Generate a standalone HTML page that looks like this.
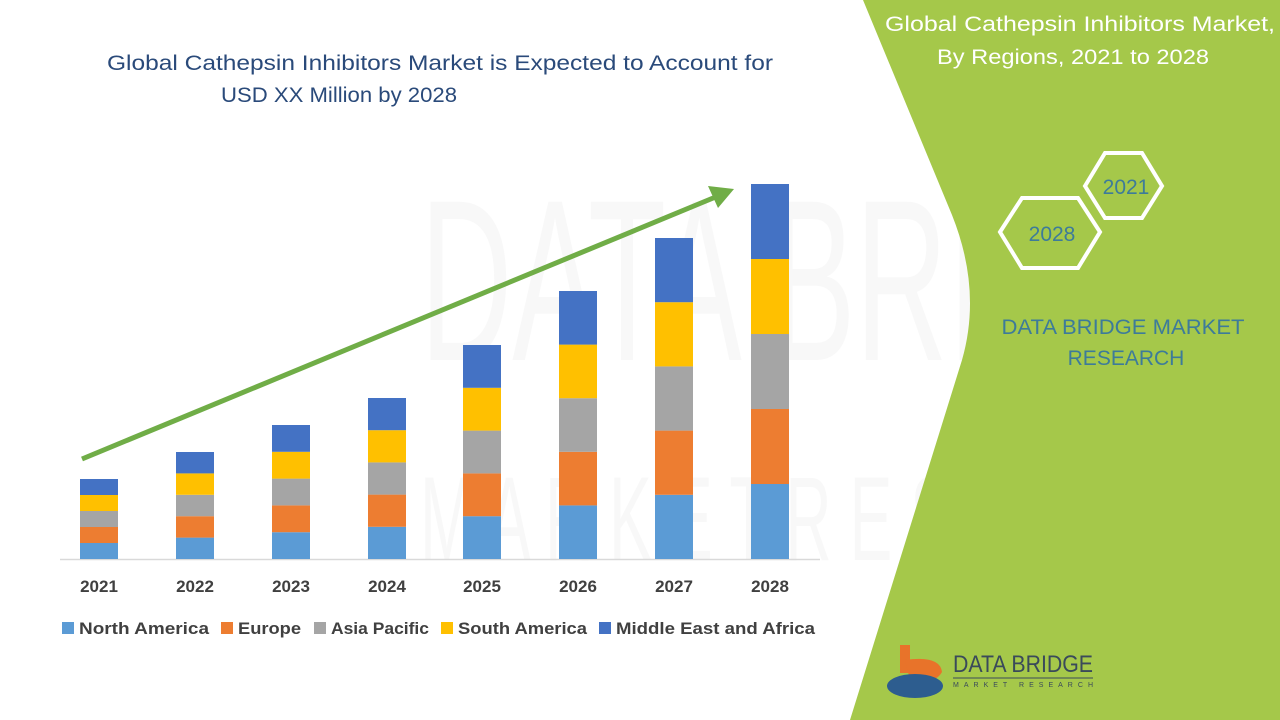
<!DOCTYPE html>
<html><head><meta charset="utf-8"><style>
html,body{margin:0;padding:0;width:1280px;height:720px;overflow:hidden;background:#fff}
svg{display:block}
</style></head><body>
<svg width="1280" height="720" viewBox="0 0 1280 720" xmlns="http://www.w3.org/2000/svg" font-family="Liberation Sans, sans-serif">
<rect width="1280" height="720" fill="#fff"/>
<g opacity="0.035" fill="#555">
<text x="420" y="360" font-size="230" textLength="840" lengthAdjust="spacingAndGlyphs">DATA BRIDGE</text>
<text x="420" y="560" font-size="120" textLength="840" lengthAdjust="spacingAndGlyphs">M A R K E T  R E S E A R C H</text>
</g>
<path d="M863,0 L952,215 Q982,290 962,360 L850,720 L1280,720 L1280,0 Z" fill="#a5c84a"/>
<text x="1080" y="31" font-size="21" fill="#fff" text-anchor="middle" textLength="390" lengthAdjust="spacingAndGlyphs">Global Cathepsin Inhibitors Market,</text>
<text x="1073" y="64" font-size="21" fill="#fff" text-anchor="middle" textLength="272" lengthAdjust="spacingAndGlyphs">By Regions, 2021 to 2028</text>
<polygon points="1000,232 1022,198 1078,198 1100,232 1078,268 1022,268" fill="none" stroke="#fff" stroke-width="4"/>
<polygon points="1085,186 1105,153 1142,153 1162,186 1142,218 1105,218" fill="none" stroke="#fff" stroke-width="4"/>
<text x="1052" y="241" font-size="21" fill="#3d7b9a" text-anchor="middle">2028</text>
<text x="1126" y="194" font-size="21" fill="#3d7b9a" text-anchor="middle">2021</text>
<text x="1123" y="334" font-size="21" fill="#3d7b9a" text-anchor="middle" textLength="243" lengthAdjust="spacingAndGlyphs">DATA BRIDGE MARKET</text>
<text x="1126" y="365" font-size="21" fill="#3d7b9a" text-anchor="middle">RESEARCH</text>
<rect x="900" y="645" width="10" height="28" fill="#e8732a"/>
<path d="M905,660 Q940,655 942,672 Q935,685 910,680 Z" fill="#e8732a"/>
<ellipse cx="915" cy="686" rx="28" ry="12" fill="#2d5d8f"/>
<text x="953" y="672" font-size="24" fill="#3a4a5a" textLength="140" lengthAdjust="spacingAndGlyphs">DATA BRIDGE</text>
<line x1="953" y1="678" x2="1093" y2="678" stroke="#3a4a5a" stroke-width="1"/>
<text x="953" y="687" font-size="7" fill="#3a4a5a" textLength="140" lengthAdjust="spacing">MARKET RESEARCH</text>
<text x="440" y="70" font-size="21" fill="#2a4a7a" text-anchor="middle" textLength="666" lengthAdjust="spacingAndGlyphs">Global Cathepsin Inhibitors Market is Expected to Account for</text>
<text x="339" y="102" font-size="21" fill="#2a4a7a" text-anchor="middle" textLength="236" lengthAdjust="spacingAndGlyphs">USD XX Million by 2028</text>
<line x1="60" y1="559.5" x2="820" y2="559.5" stroke="#d9d9d9" stroke-width="1.5"/>
<g>
<rect x="80" y="543" width="38" height="16" fill="#5b9bd5"/><rect x="80" y="527" width="38" height="16" fill="#ed7d31"/><rect x="80" y="511" width="38" height="16" fill="#a5a5a5"/><rect x="80" y="495" width="38" height="16" fill="#ffc000"/><rect x="80" y="479" width="38" height="16" fill="#4472c4"/>
<rect x="176" y="537.6" width="38" height="21.4" fill="#5b9bd5"/><rect x="176" y="516.2" width="38" height="21.4" fill="#ed7d31"/><rect x="176" y="494.8" width="38" height="21.4" fill="#a5a5a5"/><rect x="176" y="473.4" width="38" height="21.4" fill="#ffc000"/><rect x="176" y="452" width="38" height="21.4" fill="#4472c4"/>
<rect x="272" y="532.2" width="38" height="26.8" fill="#5b9bd5"/><rect x="272" y="505.4" width="38" height="26.8" fill="#ed7d31"/><rect x="272" y="478.6" width="38" height="26.8" fill="#a5a5a5"/><rect x="272" y="451.8" width="38" height="26.8" fill="#ffc000"/><rect x="272" y="425" width="38" height="26.8" fill="#4472c4"/>
<rect x="368" y="526.8" width="38" height="32.2" fill="#5b9bd5"/><rect x="368" y="494.6" width="38" height="32.2" fill="#ed7d31"/><rect x="368" y="462.4" width="38" height="32.2" fill="#a5a5a5"/><rect x="368" y="430.2" width="38" height="32.2" fill="#ffc000"/><rect x="368" y="398" width="38" height="32.2" fill="#4472c4"/>
<rect x="463" y="516.2" width="38" height="42.8" fill="#5b9bd5"/><rect x="463" y="473.4" width="38" height="42.8" fill="#ed7d31"/><rect x="463" y="430.6" width="38" height="42.8" fill="#a5a5a5"/><rect x="463" y="387.8" width="38" height="42.8" fill="#ffc000"/><rect x="463" y="345" width="38" height="42.8" fill="#4472c4"/>
<rect x="559" y="505.4" width="38" height="53.6" fill="#5b9bd5"/><rect x="559" y="451.8" width="38" height="53.6" fill="#ed7d31"/><rect x="559" y="398.2" width="38" height="53.6" fill="#a5a5a5"/><rect x="559" y="344.6" width="38" height="53.6" fill="#ffc000"/><rect x="559" y="291" width="38" height="53.6" fill="#4472c4"/>
<rect x="655" y="494.8" width="38" height="64.2" fill="#5b9bd5"/><rect x="655" y="430.6" width="38" height="64.2" fill="#ed7d31"/><rect x="655" y="366.4" width="38" height="64.2" fill="#a5a5a5"/><rect x="655" y="302.2" width="38" height="64.2" fill="#ffc000"/><rect x="655" y="238" width="38" height="64.2" fill="#4472c4"/>
<rect x="751" y="484" width="38" height="75" fill="#5b9bd5"/><rect x="751" y="409" width="38" height="75" fill="#ed7d31"/><rect x="751" y="334" width="38" height="75" fill="#a5a5a5"/><rect x="751" y="259" width="38" height="75" fill="#ffc000"/><rect x="751" y="184" width="38" height="75" fill="#4472c4"/>
</g>
<line x1="82" y1="459" x2="718" y2="196" stroke="#70ad47" stroke-width="5"/>
<polygon points="734,189 708,186 718,208" fill="#70ad47"/>
<g font-size="17" font-weight="bold" fill="#404040" text-anchor="middle">
<text x="99" y="592">2021</text><text x="195" y="592">2022</text><text x="291" y="592">2023</text><text x="387" y="592">2024</text><text x="482" y="592">2025</text><text x="578" y="592">2026</text><text x="674" y="592">2027</text><text x="770" y="592">2028</text>
</g>
<g font-size="17" font-weight="bold" fill="#404040">
<rect x="62" y="622" width="12" height="12" fill="#5b9bd5"/><text x="79" y="634" textLength="130" lengthAdjust="spacingAndGlyphs">North America</text>
<rect x="221" y="622" width="12" height="12" fill="#ed7d31"/><text x="238" y="634" textLength="63" lengthAdjust="spacingAndGlyphs">Europe</text>
<rect x="314" y="622" width="12" height="12" fill="#a5a5a5"/><text x="331" y="634" textLength="98" lengthAdjust="spacingAndGlyphs">Asia Pacific</text>
<rect x="441" y="622" width="12" height="12" fill="#ffc000"/><text x="458" y="634" textLength="129" lengthAdjust="spacingAndGlyphs">South America</text>
<rect x="599" y="622" width="12" height="12" fill="#4472c4"/><text x="616" y="634" textLength="199" lengthAdjust="spacingAndGlyphs">Middle East and Africa</text>
</g>
</svg>
</body></html>
